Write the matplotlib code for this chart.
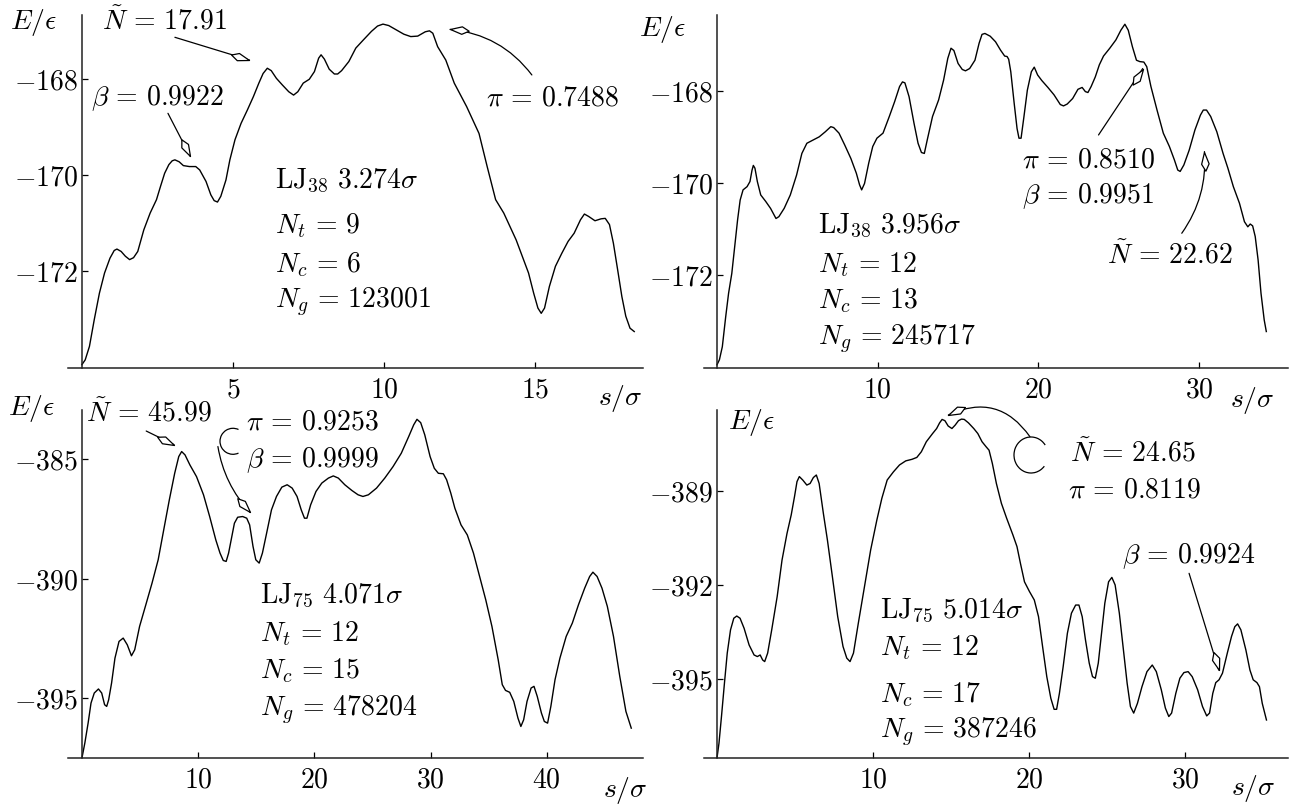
import numpy as np
import matplotlib
matplotlib.use('Agg')
import matplotlib.pyplot as plt
from matplotlib.markers import MarkerStyle
from matplotlib.path import Path
from matplotlib.patches import Arc
from matplotlib.transforms import Affine2D

plt.rcParams['mathtext.fontset'] = 'cm'
plt.rcParams['font.family'] = 'serif'

# ---- data ----
# LJ38, 3.274 sigma
s1 = [0, 0.11, 0.25, 0.41, 0.58, 0.75, 0.93, 1.07, 1.16,
      1.30, 1.44, 1.58, 1.71, 1.85,
      2.05, 2.26, 2.47, 2.60, 2.74, 2.88, 2.99, 3.08,
      3.22, 3.36, 3.56, 3.77, 3.90, 4.11, 4.27, 4.38, 4.49,
      4.60, 4.77, 4.90, 5.07, 5.27, 5.48, 5.68, 5.86, 6.0, 6.14,
      6.27, 6.44, 6.64, 6.85, 7.01,
      7.15, 7.33, 7.53, 7.70, 7.84, 7.92,
      8.03, 8.19, 8.36, 8.47,
      8.60, 8.84, 9.07, 9.32, 9.59, 9.79, 9.97,
      10.16, 10.41, 10.66, 10.89,
      11.12, 11.37, 11.51,
      11.62, 11.78, 12.05, 12.33, 12.74, 13.15, 13.42, 13.70, 13.97, 14.38, 14.79, 14.96, 15.10, 15.21,
      15.32, 15.48, 15.68, 15.89, 16.10, 16.30, 16.51, 16.64,
      16.78, 16.99, 17.19, 17.33,
      17.47, 17.60, 17.74, 17.88, 18.01, 18.15, 18.29]
e1 = [-173.95, -173.85, -173.57, -173.01, -172.46, -172.04, -171.73, -171.57, -171.54,
      -171.59, -171.69, -171.76, -171.72, -171.59,
      -171.14, -170.79, -170.51, -170.24, -169.96, -169.78, -169.70, -169.68,
      -169.72, -169.80, -169.82, -169.82, -169.89, -170.13, -170.41, -170.53, -170.56,
      -170.44, -170.10, -169.68, -169.26, -168.92, -168.64, -168.36, -168.08, -167.88, -167.77,
      -167.82, -167.98, -168.12, -168.26, -168.33,
      -168.26, -168.08, -168.0, -167.84, -167.56, -167.49,
      -167.58, -167.79, -167.89, -167.89,
      -167.82, -167.63, -167.35, -167.18, -167.0, -166.89, -166.85,
      -166.88, -166.97, -167.06, -167.11,
      -167.10, -167.01, -166.99,
      -167.04, -167.32, -167.60, -168.08, -168.57, -169.13, -169.82, -170.51, -170.79, -171.35, -172.04, -172.46, -172.77, -172.88,
      -172.77, -172.32, -171.90, -171.63, -171.38, -171.21, -170.93, -170.81,
      -170.86, -170.95, -170.91, -170.90,
      -171.03, -171.42, -171.97, -172.53, -172.94, -173.19, -173.26]

# LJ38, 3.956 sigma
s2 = [0, 0.15, 0.33, 0.54, 0.72, 0.92, 1.10, 1.28, 1.44, 1.62,
      1.87, 2.05, 2.18, 2.26, 2.36, 2.51, 2.72, 3.03, 3.33, 3.67,
      3.85, 4.18, 4.56, 4.95, 5.28, 5.59, 5.97, 6.36, 6.74, 7.08,
      7.26, 7.59, 7.95, 8.33, 8.67, 8.87, 9.00, 9.18, 9.44, 9.69,
      9.95, 10.33, 10.72, 11.05, 11.36, 11.54, 11.69, 11.95, 12.26, 12.51,
      12.72, 12.90, 13.08, 13.41, 13.79, 14.10, 14.36, 14.56, 14.74, 15.0,
      15.26, 15.46, 15.72, 16.05, 16.31, 16.49, 16.67, 17.0, 17.33, 17.64,
      17.90, 18.05, 18.15, 18.28, 18.49, 18.67, 18.79, 18.92, 19.10, 19.31,
      19.56, 19.74, 19.95, 20.21, 20.59, 20.97, 21.36, 21.56, 21.79, 22.13,
      22.46, 22.72, 22.92, 23.08, 23.28, 23.54, 23.79, 24.05, 24.44, 24.82,
      25.13, 25.38, 25.59, 25.85, 26.10, 26.31, 26.56, 26.74, 27.0, 27.38,
      27.77, 28.15, 28.46, 28.67, 28.82, 29.05, 29.38, 29.74, 30.08, 30.26,
      30.46, 30.72, 31.10, 31.49, 31.79, 32.13, 32.51, 32.82, 33.03, 33.18,
      33.33, 33.49, 33.67, 33.85, 34.05, 34.18]
e2 = [-173.94, -173.83, -173.55, -172.90, -172.39, -171.96, -171.38, -170.80, -170.37, -170.15,
      -170.08, -169.97, -169.72, -169.62, -169.68, -169.97, -170.26, -170.40, -170.55, -170.77,
      -170.73, -170.55, -170.26, -169.83, -169.36, -169.14, -169.07, -169.00, -168.89, -168.78,
      -168.80, -168.92, -169.18, -169.47, -169.79, -170.04, -170.15, -170.01, -169.57, -169.21,
      -169.03, -168.92, -168.56, -168.24, -167.91, -167.81, -167.83, -168.13, -168.71, -169.14,
      -169.34, -169.36, -169.07, -168.56, -168.20, -167.77, -167.30, -167.08, -167.13, -167.41,
      -167.54, -167.57, -167.52, -167.34, -166.97, -166.78, -166.76, -166.82, -166.94, -167.12,
      -167.25, -167.26, -167.32, -167.59, -168.27, -168.82, -169.03, -169.03, -168.56, -167.99,
      -167.59, -167.49, -167.66, -167.78, -167.93, -168.09, -168.30, -168.33, -168.29, -168.17,
      -167.97, -167.93, -168.02, -168.04, -167.91, -167.70, -167.44, -167.25, -167.08, -166.90,
      -166.69, -166.56, -166.69, -167.05, -167.34, -167.37, -167.38, -167.48, -167.91, -168.42,
      -168.92, -169.21, -169.50, -169.72, -169.75, -169.61, -169.29, -168.85, -168.53, -168.42,
      -168.42, -168.56, -168.89, -169.36, -169.68, -170.08, -170.44, -170.84, -170.95, -170.89,
      -170.93, -171.16, -171.67, -172.39, -172.97, -173.22]

# LJ75, 4.071 sigma
s3 = [0, 0.25, 0.53, 0.78, 1.06, 1.42, 1.70, 1.95, 2.13, 2.30,
      2.55, 2.84, 3.19, 3.55, 3.90, 4.26, 4.54, 4.96, 5.50, 6.03,
      6.56, 7.09, 7.52, 7.98, 8.33, 8.58, 8.87, 9.29, 9.86, 10.46,
      10.99, 11.52, 11.88, 12.16, 12.41, 12.62, 12.84, 13.12, 13.40, 13.83,
      14.18, 14.43, 14.72, 14.96, 15.25, 15.53, 15.89, 16.31, 16.74, 17.20,
      17.66, 18.09, 18.51, 18.87, 19.15, 19.36, 19.68, 20.14, 20.64, 21.21,
      21.63, 22.06, 22.62, 23.23, 23.76, 24.18, 24.65, 25.35, 26.06, 26.77,
      27.48, 28.12, 28.55, 28.83, 29.15, 29.50, 29.96, 30.32, 30.67, 31.10,
      31.38, 31.74, 32.09, 32.62, 33.16, 33.69, 34.22, 34.75, 35.28, 35.82,
      36.17, 36.45, 36.81, 37.16, 37.52, 37.77, 38.01, 38.30, 38.65, 38.90,
      39.18, 39.54, 39.79, 40.07, 40.35, 40.71, 41.13, 41.67, 42.20, 42.73,
      43.26, 43.69, 43.97, 44.33, 44.75, 45.21, 45.74, 46.28, 46.81, 47.27]
e3 = [-397.51, -396.88, -396.05, -395.21, -394.79, -394.62, -394.79, -395.28, -395.35, -395.07,
      -394.37, -393.33, -392.63, -392.49, -392.77, -393.23, -392.98, -392.00, -391.09, -390.19,
      -389.21, -387.82, -386.70, -385.59, -384.89, -384.68, -384.82, -385.24, -385.73, -386.49,
      -387.40, -388.38, -388.93, -389.24, -389.28, -388.93, -388.38, -387.68, -387.43, -387.40,
      -387.47, -387.75, -388.65, -389.21, -389.35, -388.93, -388.10, -387.12, -386.56, -386.17,
      -386.07, -386.21, -386.56, -387.12, -387.47, -387.47, -386.91, -386.35, -386.00, -385.79,
      -385.70, -385.79, -386.07, -386.31, -386.49, -386.56, -386.49, -386.21, -385.79, -385.31,
      -384.75, -384.05, -383.56, -383.33, -383.47, -383.98, -384.89, -385.38, -385.59, -385.61,
      -385.86, -386.42, -387.05, -387.75, -388.17, -388.93, -389.91, -390.89, -392.00, -393.40,
      -394.44, -394.68, -394.76, -395.14, -395.84, -396.19, -395.91, -395.14, -394.58, -394.51,
      -394.93, -395.63, -395.98, -396.05, -395.35, -394.23, -393.33, -392.42, -391.86, -391.09,
      -390.40, -389.91, -389.73, -389.91, -390.40, -391.16, -392.42, -394.09, -395.56, -396.26]

# LJ75, 5.014 sigma
s4 = [0, 0.13, 0.29, 0.48, 0.66, 0.87, 1.08, 1.27, 1.48, 1.74,
      2.06, 2.38, 2.59, 2.77, 2.93, 3.06, 3.25, 3.51, 3.86, 4.17,
      4.49, 4.76, 4.97, 5.13, 5.28, 5.50, 5.76, 5.97, 6.18, 6.37,
      6.55, 6.82, 7.08, 7.40, 7.74, 8.08, 8.32, 8.53, 8.75, 9.06,
      9.46, 9.85, 10.25, 10.57, 10.91, 11.31, 11.70, 12.10, 12.50, 12.81,
      13.10, 13.42, 13.82, 14.08, 14.27, 14.43, 14.61, 14.82, 15.06, 15.27,
      15.48, 15.67, 15.85, 16.12, 16.46, 16.72, 16.99, 17.25, 17.44, 17.65,
      17.91, 18.23, 18.57, 18.97, 19.23, 19.45, 19.71, 20.03, 20.34, 20.61,
      20.87, 21.14, 21.40, 21.61, 21.77, 21.95, 22.19, 22.46, 22.72, 22.99,
      23.20, 23.41, 23.62, 23.86, 24.07, 24.25, 24.44, 24.65, 24.86, 25.10,
      25.31, 25.52, 25.79, 26.05, 26.29, 26.50, 26.71, 26.95, 27.24, 27.56,
      27.90, 28.16, 28.48, 28.74, 28.96, 29.14, 29.41, 29.67, 29.93, 30.20,
      30.46, 30.81, 31.12, 31.39, 31.57, 31.78, 31.97, 32.18, 32.40, 32.71,
      32.98, 33.19, 33.37, 33.58, 33.90, 34.16, 34.37, 34.61, 34.77, 34.95,
      35.22]
e4 = [-397.52, -397.04, -396.19, -395.13, -394.17, -393.43, -393.06, -392.99, -393.06, -393.38,
      -393.91, -394.23, -394.28, -394.23, -394.39, -394.44, -394.17, -393.43, -392.37, -391.21,
      -390.36, -389.77, -389.19, -388.71, -388.55, -388.66, -388.82, -388.77, -388.58, -388.50,
      -388.77, -389.72, -390.57, -391.74, -393.01, -393.96, -394.33, -394.44, -394.17, -393.22,
      -392.05, -390.89, -389.93, -389.24, -388.66, -388.40, -388.18, -388.05, -388.00, -387.94,
      -387.76, -387.44, -387.18, -387.02, -386.84, -386.73, -386.77, -386.94, -387.02, -386.91,
      -386.77, -386.72, -386.73, -386.84, -387.02, -387.18, -387.44, -387.60, -387.71, -388.13,
      -388.77, -389.40, -389.88, -390.41, -390.78, -391.31, -391.90, -392.21, -392.48, -393.01,
      -393.96, -394.92, -395.61, -395.96, -395.96, -395.45, -394.60, -393.54, -392.90, -392.64,
      -392.64, -393.01, -393.75, -394.49, -394.92, -394.97, -394.49, -393.54, -392.58, -391.90,
      -391.76, -392.00, -392.90, -394.07, -395.13, -395.87, -396.08, -395.77, -395.24, -394.76,
      -394.55, -394.76, -395.34, -395.92, -396.19, -396.08, -395.45, -394.97, -394.79, -394.76,
      -394.92, -395.34, -395.87, -396.17, -396.08, -395.45, -395.11, -395.02, -394.81, -394.17,
      -393.64, -393.33, -393.24, -393.43, -394.07, -394.71, -395.02, -395.11, -395.24, -395.77,
      -396.30]

xticks = [[5, 10, 15], [10, 20, 30], [10, 20, 30, 40], [10, 20, 30]]
yticks = [[-168, -170, -172], [-168, -170, -172], [-385, -390, -395], [-389, -392, -395]]
info = [('38', '3.274', '9', '6', '123001'),
        ('38', '3.956', '12', '13', '245717'),
        ('75', '4.071', '12', '15', '478204'),
        ('75', '5.014', '12', '17', '387246')]

W, H = 1292, 806
FS = 20
EQ = r'\,=\,'
fig = plt.figure(figsize=(W / 100, H / 100), dpi=100)

# axes boxes in pixels (left, top, right, bottom) and their data limits
boxes = [(68, 15, 643, 368), (704, 15, 1288, 368), (68, 410, 643, 758), (704, 410, 1288, 758)]
xlims = [(-0.46, 18.58), (-0.81, 35.53), (-1.2, 48.28), (-0.83, 36.6)]
ylims = [(-174.02, -166.66), (-174.01, -166.36), (-397.51, -382.94), (-397.51, -386.43)]
curves = [(s1, e1), (s2, e2), (s3, e3), (s4, e4)]

KITE = Path([(0, 0), (-0.62, 0.2), (-1, 0), (-0.62, -0.2), (0, 0)],
            [Path.MOVETO, Path.LINETO, Path.LINETO, Path.LINETO, Path.CLOSEPOLY])


def ftext(x, y, s):
    fig.text(x / W, 1 - y / H, s, fontsize=FS, ha='left', va='baseline')


def pointer(ax, start, tip, rad=0.0):
    ax.annotate('', xy=tip, xytext=start, annotation_clip=False,
                arrowprops=dict(arrowstyle='-', lw=0.9, color='k', shrinkA=0, shrinkB=0,
                                connectionstyle=f'arc3,rad={rad}'))
    # orient the kite head along the end tangent of the arc3 curve
    p1 = ax.transData.transform(start)
    p2 = ax.transData.transform(tip)
    d = p2 - p1
    ctrl = (p1 + p2) / 2 + rad * np.array([d[1], -d[0]])
    t = p2 - ctrl
    ang = np.degrees(np.arctan2(t[1], t[0]))
    m = MarkerStyle(KITE, transform=Affine2D().rotate_deg(ang))
    ax.plot([tip[0]], [tip[1]], marker=m, ms=27, mfc='white', mec='k', mew=0.9,
            clip_on=False, zorder=5)


def curl(cx, cy, w, h, t1, t2):
    fig.add_artist(Arc((cx / 100, (H - cy) / 100), w / 100, h / 100, theta1=t1, theta2=t2,
                       transform=fig.dpi_scale_trans, lw=0.9, color='k'))


axes = []
for i in range(4):
    x0, yt, x1, yb = boxes[i]
    ax = fig.add_axes([x0 / W, 1 - yb / H, (x1 - x0) / W, (yb - yt) / H])
    ax.plot(curves[i][0], curves[i][1], color='k', lw=1.0)
    ax.set_xlim(*xlims[i])
    ax.set_ylim(*ylims[i])
    ax.patch.set_visible(False)
    for sp in ('top', 'right'):
        ax.spines[sp].set_visible(False)
    ax.spines['left'].set_position(('data', 0))
    for sp in ('left', 'bottom'):
        ax.spines[sp].set_linewidth(1.1)
        ax.spines[sp].set_color('#222222')
    ax.set_xticks(xticks[i], [f'${v}$' for v in xticks[i]])
    ax.set_yticks(yticks[i], [f'${v}$' for v in yticks[i]])
    ax.tick_params(direction='in', length=4, width=0.9, labelsize=FS)
    ax.tick_params(axis='x', pad=6)
    ax.tick_params(axis='y', pad=3)
    axes.append(ax)

# axis labels
ftext(10, 29, r'$E/\epsilon$')
ftext(639, 36, r'$E/\epsilon$')
ftext(8, 415, r'$E/\epsilon$')
ftext(728, 429, r'$E/\epsilon$')
ftext(598, 405, r'$s/\sigma$')
ftext(1230, 407, r'$s/\sigma$')
ftext(603, 797, r'$s/\sigma$')
ftext(1231, 795, r'$s/\sigma$')

# info blocks
blocks = [(275, [188, 233, 272, 308]), (818, [233, 272, 308, 345]),
          (260, [603, 641, 678, 716]), (880, [618, 655, 702, 738])]
for (x, ys), (n, r, nt, nc, ng) in zip(blocks, info):
    ftext(x, ys[0], r'$\mathrm{LJ}_{' + n + r'}\ ' + r + r'\sigma$')
    ftext(x, ys[1], r'$N_t' + EQ + nt + '$')
    ftext(x, ys[2], r'$N_c' + EQ + nc + '$')
    ftext(x, ys[3], r'$N_g' + EQ + ng + '$')

# panel 1 annotations
ftext(102, 29, r'$\tilde{N}' + EQ + '17.91$')
ftext(91, 105, r'$\beta' + EQ + '0.9922$')
ftext(486, 105, r'$\pi' + EQ + '0.7488$')
pointer(axes[0], (3.08, -167.125), (5.55, -167.60))
pointer(axes[0], (2.85, -168.71), (3.59, -169.61))
pointer(axes[0], (14.90, -167.91), (12.19, -166.96), rad=0.22)

# panel 2 annotations
ftext(1022, 167, r'$\pi' + EQ + '0.8510$')
ftext(1022, 203, r'$\beta' + EQ + '0.9951$')
ftext(1107, 263, r'$\tilde{N}' + EQ + '22.62$')
pointer(axes[1], (23.74, -168.96), (26.49, -167.52))
pointer(axes[1], (28.92, -171.09), (30.33, -169.32), rad=0.18)

# panel 3 annotations
ftext(86, 422, r'$\tilde{N}' + EQ + '45.99$')
ftext(246, 429, r'$\pi' + EQ + '0.9253$')
ftext(246, 467, r'$\beta' + EQ + '0.9999$')
pointer(axes[2], (5.53, -383.82), (7.92, -384.39))
curl(233, 441.3, 26, 26, 65, 295)
pointer(axes[2], (11.70, -384.47), (14.47, -387.23), rad=0.15)

# panel 4 annotations
ftext(1070, 461, r'$\tilde{N}' + EQ + '24.65$')
ftext(1068, 498, r'$\pi' + EQ + '0.8119$')
ftext(1122, 563, r'$\beta' + EQ + '0.9924$')
curl(1031, 455, 34, 36, 35, 320)
pointer(axes[3], (20.06, -387.28), (14.83, -386.59), rad=0.42)
pointer(axes[3], (30.26, -391.63), (32.16, -394.71))

fig.savefig('out.png', dpi=100)
